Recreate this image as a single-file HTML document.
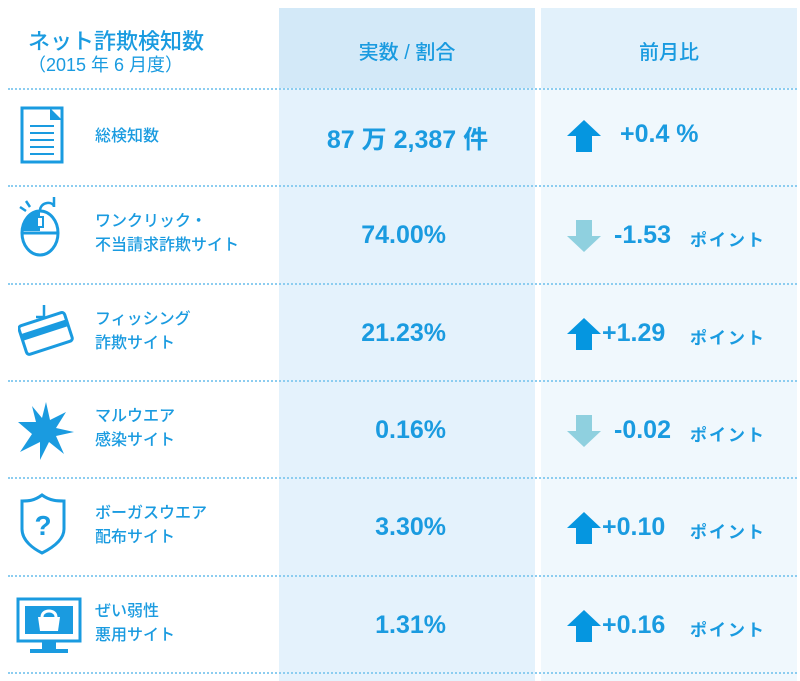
<!DOCTYPE html>
<html lang="ja"><head><meta charset="utf-8">
<style>
body{margin:0;width:800px;height:681px;background:#fff;position:relative;overflow:hidden;font-family:"Liberation Sans","Noto Sans CJK JP",sans-serif;color:#1a9be0}
.abs{position:absolute}
.bg2{left:279px;top:8px;width:256px;height:673px;background:#e4f2fc}
.bg3{left:541px;top:8px;width:256px;height:673px;background:#f0f8fd}
.h2{left:279px;top:8px;width:256px;height:80px;background:#d3e9f8}
.h3{left:541px;top:8px;width:256px;height:80px;background:#e2f1fb}
.sep{left:8px;width:789px;height:0;border-top:2px dotted #8ccdf0}
.label{left:95px;font-size:16px;line-height:24px;font-weight:500}
.val{font-size:25px;font-weight:bold;text-align:right;width:200px}
.chg{font-size:25px;font-weight:bold}
.pt{font-size:17px;font-weight:bold;letter-spacing:2px}
</style></head><body>
<div class="abs bg2"></div>
<div class="abs bg3"></div>
<div class="abs h2"></div>
<div class="abs h3"></div>
<div class="abs" style="left:28px;top:24px;font-size:22px;font-weight:500">ネット詐欺検知数</div>
<div class="abs" style="left:28px;top:51px;font-size:18px">（2015 年 6 月度）</div>
<div class="abs" style="left:279px;width:256px;top:36px;text-align:center;font-size:20px;font-weight:500">実数 / 割合</div>
<div class="abs" style="left:541px;width:256px;top:36px;text-align:center;font-size:20px;font-weight:500">前月比</div>
<div id="rows"></div>
<script>
const labels=[["総検知数"],["ワンクリック・","不当請求詐欺サイト"],["フィッシング","詐欺サイト"],["マルウエア","感染サイト"],["ボーガスウエア","配布サイト"],["ぜい弱性","悪用サイト"]];
const values=["87 万 2,387 件","74.00%","21.23%","0.16%","3.30%","1.31%"];
const changes=["+0.4 %","-1.53","+1.29","-0.02","+0.10","+0.16"];
const units=["","ポイント","ポイント","ポイント","ポイント","ポイント"];
const names=["total","one-click","phishing","malware","bogusware","vulnerability"];
const icons=[
'<rect x="2" y="2" width="40" height="54" fill="#fff" stroke="#1a9be0" stroke-width="3"/><path d="M30 2 L42 14 L30 14Z" fill="#1a9be0"/><g stroke="#1a9be0" stroke-width="2"><line x1="10" y1="20" x2="34" y2="20"/><line x1="10" y1="27" x2="34" y2="27"/><line x1="10" y1="34" x2="34" y2="34"/><line x1="10" y1="41" x2="34" y2="41"/><line x1="10" y1="48" x2="34" y2="48"/></g>',
'<ellipse cx="22" cy="36" rx="18" ry="22" fill="#fff" stroke="#1a9be0" stroke-width="3"/><path d="M5 34 A18 22 0 0 1 22 14 L22 34Z" fill="#1a9be0"/><line x1="4" y1="36" x2="40" y2="36" stroke="#1a9be0" stroke-width="3"/><rect x="19" y="20" width="6" height="10" fill="#fff" stroke="#1a9be0" stroke-width="2"/><path d="M22 14 C22 4 36 4 36 10 L36 0" fill="none" stroke="#1a9be0" stroke-width="2.5"/><g stroke="#1a9be0" stroke-width="2.5"><line x1="2" y1="10" x2="8" y2="14"/><line x1="8" y1="4" x2="12" y2="10"/></g>',
'<g transform="rotate(-18 26 32)"><rect x="4" y="16" width="48" height="30" rx="3" fill="#fff" stroke="#1a9be0" stroke-width="3"/><rect x="4" y="24" width="48" height="7" fill="#1a9be0"/></g><path d="M26 2 L26 14 L18 14" fill="none" stroke="#1a9be0" stroke-width="2.5"/>',
'<polygon points="28,2 32,20 48,12 38,28 56,32 38,36 46,54 31,42 22,60 22,42 2,52 14,34 0,22 18,22 14,6 24,18" fill="#1a9be0"/>',
'<path d="M22 2 C30 8 38 8 44 8 L44 36 C44 48 30 56 22 60 C14 56 2 48 2 36 L2 8 C8 8 14 8 22 2Z" fill="#fff" stroke="#1a9be0" stroke-width="3"/><text x="23" y="42" text-anchor="middle" font-size="28" font-weight="bold" fill="#1a9be0" font-family="Liberation Sans">?</text>',
'<rect x="2" y="2" width="62" height="42" fill="#fff" stroke="#1a9be0" stroke-width="3"/><rect x="9" y="9" width="48" height="28" fill="#1a9be0"/><rect x="26" y="44" width="14" height="8" fill="#1a9be0"/><rect x="14" y="52" width="38" height="4" fill="#1a9be0"/><path d="M22 20 L44 20 L42 34 L24 34Z" fill="#fff"/><path d="M26 20 C26 12 40 12 40 20" fill="none" stroke="#fff" stroke-width="3"/>'
];
const iconPos=[[20,18,44,58],[18,12,44,60],[18,20,58,62],[18,20,58,62],[20,16,46,62],[16,22,66,58]];
const rowsEl=document.getElementById('rows');
const top0=88, rh=97.3;
for(let i=0;i<6;i++){
  const y=top0+i*rh;
  const sep=document.createElement('div');sep.className='abs sep';sep.style.top=y+'px';
  
  
  rowsEl.appendChild(sep);
  const ic=document.createElementNS('http://www.w3.org/2000/svg','svg');
  const p=iconPos[i];
  ic.setAttribute('width',p[2]);ic.setAttribute('height',p[3]);
  ic.setAttribute('viewBox','0 0 '+p[2]+' '+p[3]);
  ic.style.cssText='position:absolute;left:'+p[0]+'px;top:'+(y+p[1])+'px';
  ic.innerHTML=icons[i];
  
  
  rowsEl.appendChild(ic);
  const lb=document.createElement('div');lb.className='abs label';
  lb.innerHTML=labels[i].join('<br>');
  lb.style.top=(y+49-labels[i].length*12)+'px';
  
  
  rowsEl.appendChild(lb);
  const v=document.createElement('div');v.className='abs val';
  v.textContent=values[i];
  if(i===0){v.style.left='285px';v.style.width='245px';v.style.textAlign='center';}
  else{v.style.left='246px';}
  v.style.top=(y+(i===0?32:36))+'px';
  
  
  rowsEl.appendChild(v);
  const up=changes[i].charAt(0)==='+';
  const ar=document.createElementNS('http://www.w3.org/2000/svg','svg');
  ar.setAttribute('width','34');ar.setAttribute('height','32');
  ar.style.cssText='position:absolute;left:567px;top:'+(y+(i===0?32:35))+'px';
  ar.innerHTML=up?'<polygon points="17,0 34,16 25,16 25,32 9,32 9,16 0,16" fill="#0596e0"/>':'<polygon points="17,32 34,16 25,16 25,0 9,0 9,16 0,16" fill="#8fd0df"/>';
  
  
  rowsEl.appendChild(ar);
  const c=document.createElement('div');c.className='abs chg';
  c.textContent=changes[i];
  c.style.left=(i===0?620:(i===1||i===3?614:602))+'px';
  c.style.top=(y+(i===0?32:36))+'px';
  
  
  rowsEl.appendChild(c);
  if(units[i]){
    const u=document.createElement('div');u.className='abs pt';
    u.textContent=units[i];u.style.left='690px';u.style.top=(y+41)+'px';
    
    
    rowsEl.appendChild(u);
  }
}
const last=document.createElement('div');last.className='abs sep';last.style.top=(top0+6*rh)+'px';


rowsEl.appendChild(last);
</script>
</body></html>
